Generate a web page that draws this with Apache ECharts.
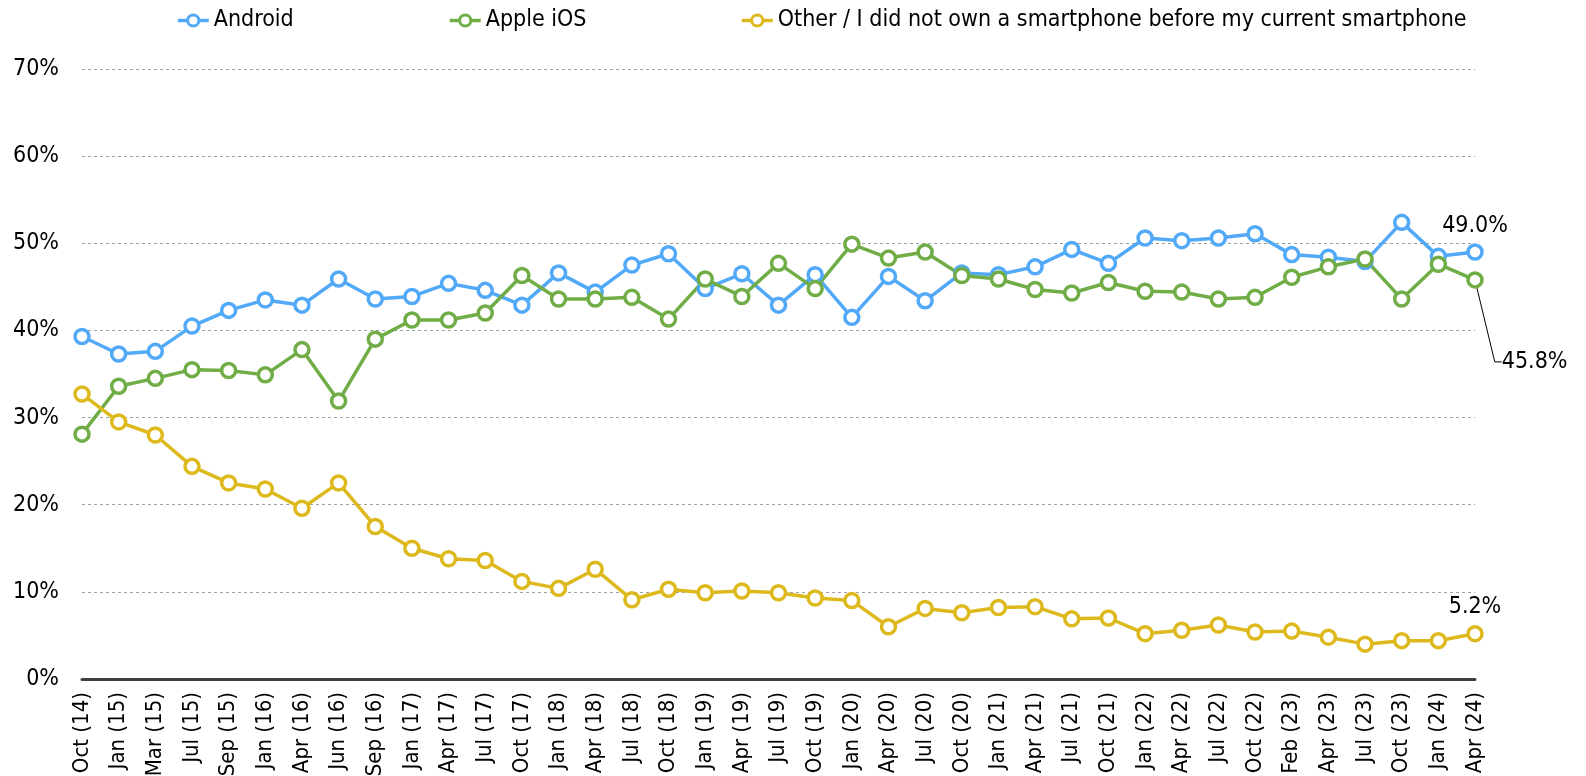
<!DOCTYPE html>
<html>
<head>
<meta charset="utf-8">
<script src="https://cdn.jsdelivr.net/npm/echarts@6/dist/echarts.min.js"></script>
<style>
  html, body { margin: 0; padding: 0; background: #fff; }
  #chart { width: 1586px; height: 776px; }
</style>
</head>
<body>
<div id="chart"></div>
<script>
// categories (survey waves)
const categories = [
  'Oct (14)', 'Jan (15)', 'Mar (15)', 'Jul (15)', 'Sep (15)', 'Jan (16)', 'Apr (16)', 'Jun (16)',
  'Sep (16)', 'Jan (17)', 'Apr (17)', 'Jul (17)', 'Oct (17)', 'Jan (18)', 'Apr (18)', 'Jul (18)',
  'Oct (18)', 'Jan (19)', 'Apr (19)', 'Jul (19)', 'Oct (19)', 'Jan (20)', 'Apr (20)', 'Jul (20)',
  'Oct (20)', 'Jan (21)', 'Apr (21)', 'Jul (21)', 'Oct (21)', 'Jan (22)', 'Apr (22)', 'Jul (22)',
  'Oct (22)', 'Feb (23)', 'Apr (23)', 'Jul (23)', 'Oct (23)', 'Jan (24)', 'Apr (24)'
]

const android = [
  39.3, 37.3, 37.6, 40.5, 42.3, 43.5, 42.9, 45.9, 43.6, 43.9, 45.4, 44.6, 42.9, 46.6, 44.4, 47.5,
  48.8, 44.8, 46.5, 42.9, 46.4, 41.5, 46.2, 43.4, 46.6, 46.4, 47.3, 49.3, 47.7, 50.6, 50.3, 50.6,
  51.1, 48.7, 48.4, 47.9, 52.4, 48.5, 49.0
]

const appleIos = [
  28.1, 33.6, 34.5, 35.5, 35.4, 34.9, 37.8, 31.9, 39.0, 41.2, 41.2, 42.0, 46.3, 43.6, 43.6, 43.8,
  41.3, 45.9, 43.9, 47.7, 44.8, 49.9, 48.3, 49.0, 46.3, 45.9, 44.7, 44.3, 45.5, 44.5, 44.4, 43.6,
  43.8, 46.1, 47.3, 48.2, 43.6, 47.6, 45.8
]

const other = [
  32.7, 29.5, 28.0, 24.4, 22.5, 21.8, 19.6, 22.5, 17.5, 15.0, 13.8, 13.6, 11.2, 10.4, 12.6, 9.1,
  10.3, 9.9, 10.1, 9.9, 9.3, 9.0, 6.0, 8.1, 7.6, 8.2, 8.3, 6.9, 7.0, 5.2, 5.6, 6.2,
  5.4, 5.5, 4.8, 4.0, 4.4, 4.4, 5.2
]

const yTicks = [0, 10, 20, 30, 40, 50, 60, 70]

const FONT = '"DejaVu Sans Condensed", "DejaVu Sans", sans-serif'
const names = ['Android', 'Apple iOS', 'Other / I did not own a smartphone before my current smartphone']
const colors = ['#52A9F8', '#70AD47', '#DDB91D']

// only the last point of each series carries a value label
function withLastLabel (arr, label) {
  return arr.map((v, i) => i === arr.length - 1 ? { value: v, label: Object.assign({ show: true }, label) } : v)
}

function makeSeries (idx, arr, label, extra) {
  return Object.assign({
    name: names[idx],
    type: 'line',
    data: withLastLabel(arr, label),
    symbol: 'circle',
    symbolSize: 14,
    lineStyle: { color: colors[idx], width: 3.5 },
    itemStyle: { color: '#fff', borderColor: colors[idx], borderWidth: 3.5 },
    label: {
      show: false,
      color: '#000',
      fontFamily: FONT,
      fontSize: 23,
      formatter: (p) => p.value.toFixed(1) + '%'
    },
    emphasis: { disabled: true },
    animation: false
  }, extra || {})
}

const chart = echarts.init(document.getElementById('chart'))

const legendBase = {
  top: 9,
  padding: 0,
  itemWidth: 31,
  itemHeight: 14,
  itemGap: 0,
  lineStyle: { width: 3.5 },
  itemStyle: { borderWidth: 3 },
  textStyle: { fontFamily: FONT, fontSize: 23, color: '#000' }
}

chart.setOption({
  backgroundColor: '#fff',
  legend: [
    Object.assign({ left: 176, data: [names[0]] }, legendBase),
    Object.assign({ left: 448, data: [names[1]] }, legendBase),
    Object.assign({ left: 740, data: [names[2]] }, legendBase)
  ],
  grid: {
    left: 82,
    right: 111,
    top: 69,
    bottom: 97,
    containLabel: false,
    outerBoundsMode: 'none'
  },
  xAxis: {
    type: 'category',
    data: categories,
    boundaryGap: false,
    axisLine: { lineStyle: { color: '#404040', width: 3 } },
    axisTick: { show: false },
    axisLabel: {
      interval: 0,
      rotate: 90,
      margin: 13,
      color: '#000',
      fontFamily: FONT,
      fontSize: 22
    },
    splitLine: { show: false }
  },
  yAxis: {
    type: 'value',
    min: yTicks[0],
    max: yTicks[yTicks.length - 1],
    interval: 10,
    axisLine: { show: false },
    axisTick: { show: false },
    axisLabel: {
      margin: 23,
      color: '#000',
      fontFamily: FONT,
      fontSize: 23,
      formatter: '{value}%'
    },
    splitLine: {
      lineStyle: { color: '#A0A0A0', width: 1, type: [3, 3] }
    }
  },
  series: [
    makeSeries(0, android, { position: 'top', distance: 6 }),
    makeSeries(1, appleIos, { position: 'right', distance: 5 }, {
      labelLine: { show: true, length2: 7, lineStyle: { color: '#000', width: 1 } },
      labelLayout: { dx: 13, dy: 82 }
    }),
    makeSeries(2, other, { position: 'top', distance: 6 })
  ]
})
</script>
</body>
</html>
